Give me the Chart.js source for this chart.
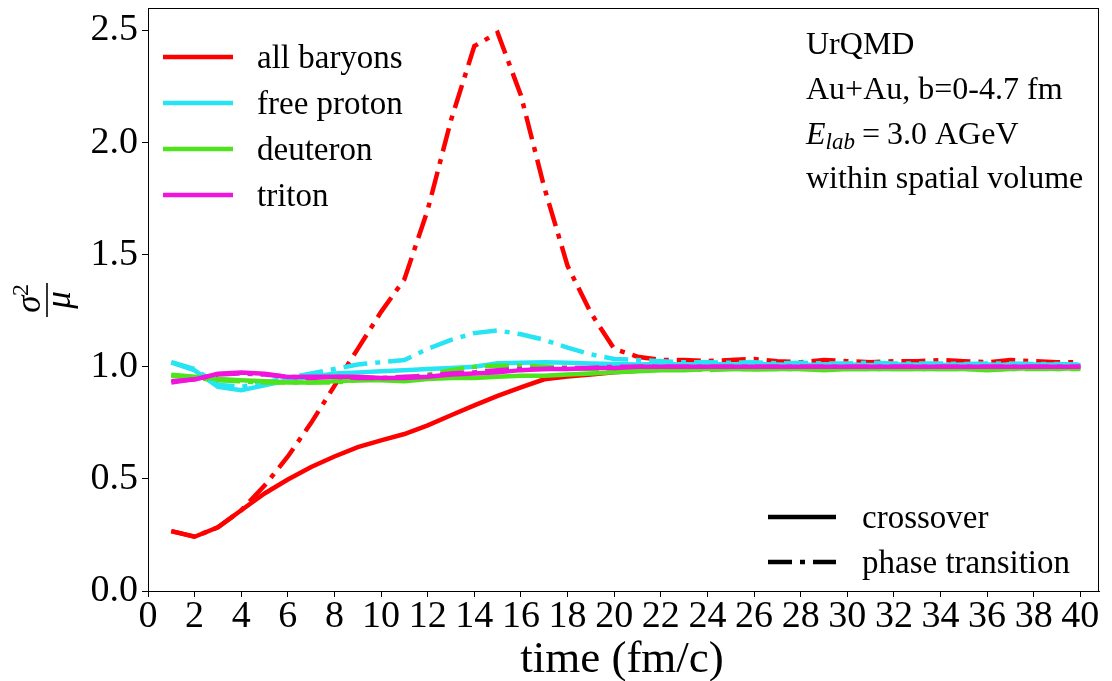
<!DOCTYPE html>
<html><head><meta charset="utf-8">
<script src="https://cdn.jsdelivr.net/npm/chart.js@4.4.0/dist/chart.umd.min.js"></script>
<style>html,body{margin:0;padding:0;background:#fff;}#wrap{width:1112px;height:681px;}</style>
</head><body><div id="wrap"><canvas id="c" width="1112" height="681"></canvas></div>
<script>
// ---- data (time in fm/c) ----
const times = [1,2,3,4,5,6,7,8,9,10,11,12,13,14,15,16,17,18,19,20,21,22,23,24,25,26,27,28,29,30,31,32,33,34,35,36,37,38,39,40];
const baryonsCross = [0.267,0.242,0.284,0.36,0.435,0.497,0.553,0.60,0.642,0.672,0.70,0.739,0.784,0.828,0.87,0.908,0.944,0.957,0.966,0.975,0.982,0.99,0.995,1.0,1.0,1.005,1.0,1.005,1.0,1.0,1.005,1.0,1.0,1.005,1.0,1.005,1.0,1.005,1.0,1.005];
const baryonsPT    = [0.267,0.242,0.284,0.36,0.47,0.60,0.75,0.915,1.08,1.245,1.39,1.70,2.10,2.43,2.49,2.21,1.80,1.45,1.24,1.08,1.045,1.03,1.03,1.025,1.03,1.035,1.025,1.02,1.03,1.025,1.02,1.025,1.025,1.03,1.025,1.02,1.03,1.025,1.02,1.02];
const protonCross  = [1.02,0.984,0.91,0.895,0.917,0.94,0.954,0.97,0.975,0.98,0.985,0.99,0.995,1.0,1.016,1.018,1.02,1.018,1.015,1.012,1.01,1.012,1.01,1.012,1.01,1.012,1.01,1.008,1.01,1.01,1.008,1.01,1.01,1.008,1.01,1.01,1.008,1.01,1.01,1.008];
const protonPT     = [1.02,0.99,0.92,0.91,0.93,0.95,0.97,0.99,1.01,1.02,1.03,1.08,1.12,1.15,1.162,1.145,1.12,1.085,1.055,1.035,1.03,1.025,1.02,1.02,1.018,1.02,1.015,1.018,1.015,1.015,1.018,1.015,1.015,1.015,1.012,1.015,1.015,1.012,1.012,1.01];
const deutCross    = [0.965,0.955,0.945,0.94,0.935,0.93,0.93,0.935,0.94,0.94,0.935,0.945,0.95,0.95,0.955,0.96,0.96,0.965,0.97,0.975,0.98,0.985,0.985,0.99,0.99,0.988,0.99,0.99,0.985,0.99,0.99,0.99,0.99,0.99,0.99,0.985,0.99,0.995,0.99,0.995];
const deutPT       = [0.96,0.95,0.94,0.935,0.93,0.93,0.93,0.93,0.94,0.945,0.95,0.965,0.985,1.0,1.005,1.005,1.0,0.995,0.99,0.99,0.985,0.99,0.99,0.985,0.99,0.99,0.99,0.99,0.99,0.99,0.99,0.99,0.99,0.99,0.99,0.99,0.99,0.99,0.99,0.99];
const tritCross    = [0.936,0.943,0.969,0.974,0.969,0.954,0.955,0.955,0.955,0.95,0.95,0.955,0.965,0.97,0.975,0.985,0.99,0.99,0.995,0.995,1.0,1.0,1.0,1.0,1.0,1.0,1.0,1.0,1.0,1.0,1.0,1.0,1.0,1.0,1.0,1.0,1.0,1.0,1.0,1.0];
const tritPT       = [0.93,0.945,0.965,0.97,0.965,0.955,0.95,0.955,0.95,0.95,0.955,0.96,0.97,0.975,0.985,0.99,0.99,0.995,0.995,1.0,1.0,1.0,1.0,1.0,1.0,1.0,1.0,1.0,1.0,1.0,1.0,1.0,1.0,1.0,1.0,1.0,1.0,1.0,1.0,1.0];
const speciesNames = ['all baryons','free proton','deuteron','triton'];
const styleNames = ['crossover','phase transition'];
const xTicks = [0,2,4,6,8,10,12,14,16,18,20,22,24,26,28,30,32,34,36,38,40];
const yTicks = [0.0,0.5,1.0,1.5,2.0,2.5];
const infoLines = ['UrQMD','Au+Au, b=0-4.7 fm','E_lab','within spatial volume'];

const colors = ['#ff0000','#27e4f2','#4ee31d','#f014dc'];
const SERIF = '"Liberation Serif","Times New Roman",serif';
const DASHDOT = [24,8,5,8];
const LW = 4.5;

function pts(arr){ return times.map((t,i)=>({x:t,y:arr[i]})); }
const seriesList = [
  [baryonsCross, baryonsPT],
  [protonCross, protonPT],
  [deutCross, deutPT],
  [tritCross, tritPT]
];
const datasets = [];
seriesList.forEach((pair, k)=>{
  datasets.push({label: speciesNames[k]+' '+styleNames[0], data: pts(pair[0]), borderColor: colors[k], borderWidth: LW, pointRadius:0, tension:0, fill:false, borderCapStyle:'butt', order: 10-k*2});
  datasets.push({label: speciesNames[k]+' '+styleNames[1], data: pts(pair[1]), borderColor: colors[k], borderWidth: LW, pointRadius:0, tension:0, fill:false, borderDash: DASHDOT, borderCapStyle:'butt', order: 9-k*2});
});

const deco = {
  id:'deco',
  afterDraw(chart){
    const ctx = chart.ctx, a = chart.chartArea;
    ctx.save();
    // frame
    ctx.strokeStyle = '#000'; ctx.lineWidth = 1;
    ctx.strokeRect(a.left+0.5, a.top+0.5, a.right-a.left-1, a.bottom-a.top);
    // species legend
    ctx.font = '33px '+SERIF; ctx.fillStyle = '#000'; ctx.textBaseline='alphabetic'; ctx.textAlign='left';
    speciesNames.forEach((n,i)=>{
      const y = 57 + i*46;
      ctx.strokeStyle = colors[i]; ctx.lineWidth = LW; ctx.setLineDash([]); ctx.lineCap='butt';
      ctx.beginPath(); ctx.moveTo(163,y); ctx.lineTo(233,y); ctx.stroke();
      ctx.fillText(n, 257, y+11);
    });
    // style legend
    styleNames.forEach((n,i)=>{
      const y = 517 + i*45;
      ctx.strokeStyle = '#000'; ctx.lineWidth = LW; ctx.setLineDash(i===0?[]:DASHDOT);
      ctx.beginPath(); ctx.moveTo(768,y); ctx.lineTo(836,y); ctx.stroke();
      ctx.setLineDash([]);
      ctx.fillText(n, 862, y+11);
    });
    // info text
    const ix = 806;
    ctx.font = '32px '+SERIF;
    ctx.fillText(infoLines[0], ix, 54);
    ctx.fillText(infoLines[1], ix, 99);
    // E_lab = 3.0 AGeV
    let x = ix;
    ctx.font = 'italic 32px '+SERIF; ctx.fillText('E', x, 144); x += ctx.measureText('E').width;
    ctx.font = 'italic 23px '+SERIF; ctx.fillText('lab', x, 149); x += ctx.measureText('lab').width + 7;
    ctx.font = '32px '+SERIF; ctx.fillText('=', x, 144); x += ctx.measureText('=').width + 7;
    ctx.fillText('3.0 AGeV', x, 144);
    ctx.fillText(infoLines[3], ix, 188);
    // x title
    ctx.font = '45px '+SERIF; ctx.textAlign='center';
    ctx.fillText('time (fm/c)', 622, 672);
    // y title: sigma^2 / mu, rotated
    ctx.translate(47, 300); ctx.rotate(-Math.PI/2);
    ctx.strokeStyle='#000'; ctx.lineWidth=1.6;
    ctx.beginPath(); ctx.moveTo(-17,0); ctx.lineTo(17,0); ctx.stroke();
    ctx.font = 'italic 35px '+SERIF; ctx.textAlign='center';
    ctx.fillText('\u03C3', -4, -7);
    ctx.font = '24px '+SERIF; ctx.fillText('2', 10, -19);
    ctx.font = 'italic 35px '+SERIF; ctx.fillText('\u03BC', 0, 23);
    ctx.restore();
  }
};

new Chart(document.getElementById('c'), {
  type:'line',
  data:{datasets},
  options:{
    responsive:false, animation:false, devicePixelRatio:1,
    layout:{padding:{left:0,right:13,top:8,bottom:0}},
    plugins:{legend:{display:false}, tooltip:{enabled:false}},
    scales:{
      x:{type:'linear', min:0, max:40.8,
        afterBuildTicks(s){ s.ticks = xTicks.map(v=>({value:v})); },
        afterFit(s){ s.height = 90; s.paddingLeft = 0; s.paddingRight = 0; },
        ticks:{font:{family:SERIF,size:38}, color:'#000', padding:-3, maxRotation:0, autoSkip:false, callback:v=>String(v)},
        grid:{drawOnChartArea:false, tickLength:6, tickColor:'#000', tickWidth:1},
        border:{color:'#000', width:1}},
      y:{type:'linear', min:0, max:2.6,
        afterBuildTicks(s){ s.ticks = yTicks.map(v=>({value:v})); },
        afterFit(s){ s.width = 148; s.paddingTop = 0; s.paddingBottom = 0; },
        ticks:{font:{family:SERIF,size:38}, color:'#000', padding:4, callback:v=>Number(v).toFixed(1)},
        grid:{drawOnChartArea:false, tickLength:6, tickColor:'#000', tickWidth:1},
        border:{color:'#000', width:1}}
    }
  },
  plugins:[deco]
});
</script></body></html>
